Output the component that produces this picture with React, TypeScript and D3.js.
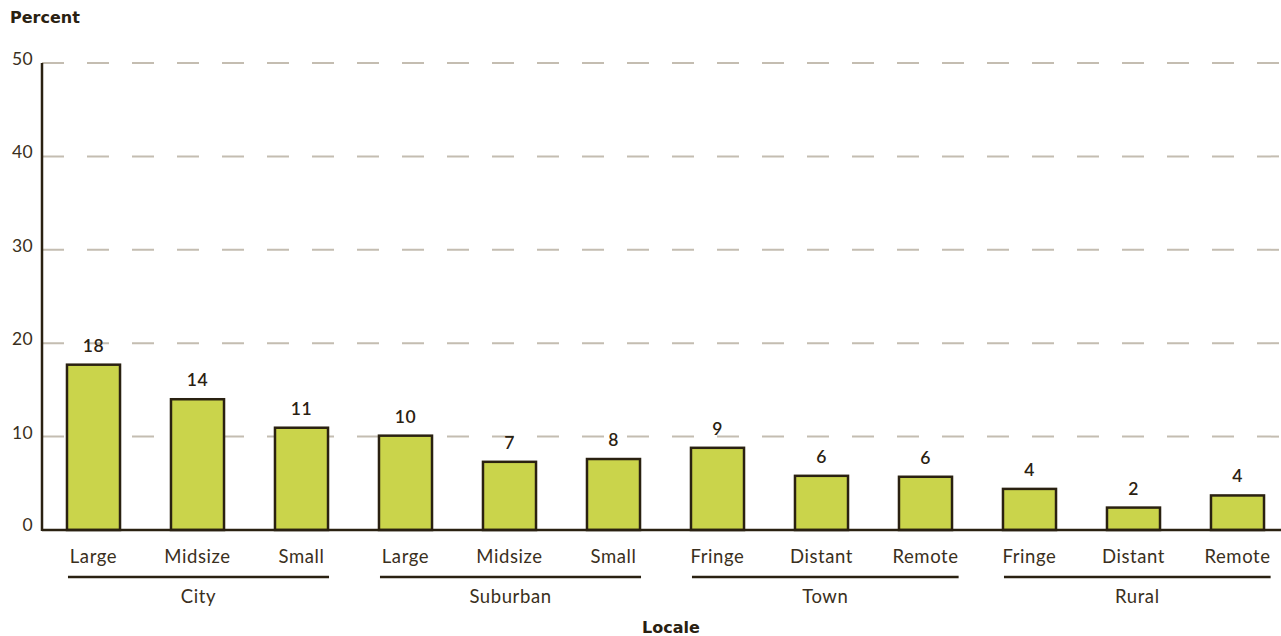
import React from 'react';
import * as d3 from 'd3';

const groups = ['City', 'Suburban', 'Town', 'Rural'];
const subLabels = [
  ['Large', 'Midsize', 'Small'],
  ['Large', 'Midsize', 'Small'],
  ['Fringe', 'Distant', 'Remote'],
  ['Fringe', 'Distant', 'Remote'],
];
const values = [17.7, 14.0, 10.95, 10.1, 7.3, 7.6, 8.8, 5.8, 5.7, 4.4, 2.4, 3.7];
const yTicks = [0, 10, 20, 30, 40, 50];

const FONT = "'Lato', 'DejaVu Sans', sans-serif";
const BOLD_FONT = "'DejaVu Sans', sans-serif";
const TEXT = '#3a2f20';
const DARK = '#2a2111';

export default function App() {
  const ref = React.useRef<SVGSVGElement>(null);

  React.useEffect(() => {
    const W = 1281;
    const left = 42;
    const svg = d3.select(ref.current);
    svg.selectAll('*').remove();

    const items = groups.flatMap((g, gi) =>
      subLabels[gi].map((s, si) => ({ key: `${g}-${s}`, group: g, sub: s, value: values[gi * 3 + si] }))
    );

    const x = d3.scaleBand<string>()
      .domain(items.map(d => d.key))
      .range([41.5, 1289.5])
      .paddingInner(0.49)
      .paddingOuter(0.245);

    const y = d3.scaleLinear().domain([0, 50]).range([530, 63]);

    // dashed gridlines
    svg.append('g')
      .selectAll('line')
      .data(yTicks.filter(t => t > 0))
      .enter()
      .append('line')
      .attr('x1', left)
      .attr('x2', W)
      .attr('y1', d => y(d))
      .attr('y2', d => y(d))
      .attr('stroke', '#c4bdb1')
      .attr('stroke-width', 2)
      .attr('stroke-dasharray', '22,23');

    // y tick labels
    svg.append('g')
      .selectAll('text')
      .data(yTicks)
      .enter()
      .append('text')
      .attr('x', 33)
      .attr('y', d => y(d) + (d === 0 ? 1 : 2))
      .attr('text-anchor', 'end')
      .attr('font-family', FONT)
      .attr('font-size', 17.5)
      .attr('letter-spacing', 0.4)
      .attr('fill', TEXT)
      .text(d => d);

    // bars
    svg.append('g')
      .selectAll('rect')
      .data(items)
      .enter()
      .append('rect')
      .attr('x', d => x(d.key) || 0)
      .attr('y', d => y(d.value))
      .attr('width', x.bandwidth())
      .attr('height', d => y(0) - y(d.value))
      .attr('fill', '#cad44b')
      .attr('stroke', DARK)
      .attr('stroke-width', 2.5);

    // value labels
    svg.append('g')
      .selectAll('text')
      .data(items)
      .enter()
      .append('text')
      .attr('x', d => (x(d.key) || 0) + x.bandwidth() / 2)
      .attr('y', d => y(d.value) - 13)
      .attr('text-anchor', 'middle')
      .attr('font-family', FONT)
      .attr('font-size', 17.5)
      .attr('font-weight', 600)
      .attr('letter-spacing', 0.5)
      .attr('fill', DARK)
      .text(d => Math.round(d.value));

    // axes lines
    svg.append('line')
      .attr('x1', left).attr('x2', W)
      .attr('y1', y(0)).attr('y2', y(0))
      .attr('stroke', DARK).attr('stroke-width', 2.5);
    svg.append('line')
      .attr('x1', left).attr('x2', left)
      .attr('y1', y(50)).attr('y2', y(0) + 1)
      .attr('stroke', DARK).attr('stroke-width', 2.5);

    // category labels
    const catLabels = svg.append('g')
      .selectAll('text')
      .data(items)
      .enter()
      .append('text')
      .attr('x', d => (x(d.key) || 0) + x.bandwidth() / 2)
      .attr('y', 563)
      .attr('text-anchor', 'middle')
      .attr('font-family', FONT)
      .attr('font-size', 18.5)
      .attr('letter-spacing', 0.6)
      .attr('fill', TEXT)
      .text(d => d.sub);

    const labelBoxes = catLabels.nodes().map(n => (n as SVGTextElement).getBBox());

    // group brackets: span the bars and their labels
    const gSel = svg.append('g');
    groups.forEach((g, gi) => {
      let x1 = Infinity;
      let x2 = -Infinity;
      for (let i = gi * 3; i < gi * 3 + 3; i++) {
        const bx = x(items[i].key) || 0;
        x1 = Math.min(x1, bx + 1);
        x2 = Math.max(x2, bx + x.bandwidth() + 1);
        if (i === gi * 3 + 2) x2 = Math.max(x2, labelBoxes[i].x + labelBoxes[i].width);
      }
      gSel.append('line')
        .attr('x1', x1).attr('x2', x2)
        .attr('y1', 577).attr('y2', 577)
        .attr('stroke', DARK).attr('stroke-width', 2.5);
      gSel.append('text')
        .attr('x', (x1 + x2) / 2)
        .attr('y', 603)
        .attr('text-anchor', 'middle')
        .attr('font-family', FONT)
        .attr('font-size', 18.5)
        .attr('letter-spacing', 0.6)
        .attr('fill', TEXT)
        .text(g);
    });

    // axis titles
    svg.append('text')
      .attr('x', 10).attr('y', 23)
      .attr('font-family', BOLD_FONT)
      .attr('font-size', 16)
      .attr('font-weight', 700)
      .attr('fill', DARK)
      .text('Percent');
    svg.append('text')
      .attr('x', 671).attr('y', 633)
      .attr('text-anchor', 'middle')
      .attr('font-family', BOLD_FONT)
      .attr('font-size', 16)
      .attr('font-weight', 700)
      .attr('fill', DARK)
      .text('Locale');
  }, []);

  return (
    <svg
      ref={ref}
      width={1281}
      height={636}
      style={{ position: 'absolute', left: 0, top: 0, background: '#fff' }}
    />
  );
}
